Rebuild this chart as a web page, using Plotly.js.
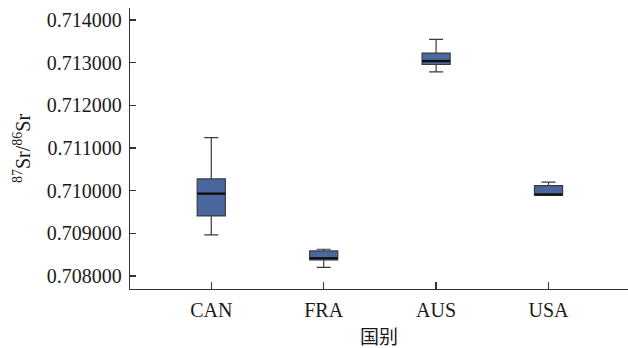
<!DOCTYPE html>
<html>
<head>
<meta charset="utf-8">
<script src="https://cdn.plot.ly/plotly-3.0.1.min.js"></script>
<style>html,body{margin:0;padding:0;background:#fff;}#chart{width:628px;height:348px;}</style>
</head>
<body>
<div id="chart"></div>
<script>
var countries = ['CAN', 'FRA', 'AUS', 'USA'];
var lowerWhisker = [0.708962, 0.708204, 0.712787, 0.709894];
var q1Values = [0.709408, 0.708375, 0.712958, 0.709894];
var medianValues = [0.709931, 0.708415, 0.713038, 0.709908];
var q3Values = [0.710276, 0.708587, 0.713226, 0.710119];
var upperWhisker = [0.711245, 0.708627, 0.713545, 0.710199];
var xTitle = '国别';
var yTitle = '<sup>87</sup>Sr/<sup>86</sup>Sr';

var fontFam = '"Liberation Serif", "Times New Roman", "Noto Sans CJK SC", serif';

var boxTrace = {
  type: 'box',
  x: countries,
  q1: q1Values,
  median: medianValues,
  q3: q3Values,
  lowerfence: lowerWhisker,
  upperfence: upperWhisker,
  boxpoints: false,
  width: 0.25,
  whiskerwidth: 0.5,
  fillcolor: '#4a67a0',
  line: {color: '#3a3a3a', width: 1.2},
  hoverinfo: 'skip',
  showlegend: false
};

var medianTrace = {
  type: 'scatter',
  mode: 'markers',
  x: countries,
  y: medianValues,
  marker: {symbol: 'line-ew', size: 20, line: {color: '#111', width: 2.4}},
  hoverinfo: 'skip',
  showlegend: false
};

var layout = {
  width: 628,
  height: 348,
  margin: {l: 130, r: 0, t: 8, b: 59},
  paper_bgcolor: '#ffffff',
  plot_bgcolor: '#ffffff',
  font: {family: fontFam, size: 20, color: '#1a1a1a'},
  xaxis: {
    type: 'category',
    range: [-0.723, 3.707],
    showline: true,
    linecolor: '#333',
    linewidth: 1.3,
    ticks: 'inside',
    ticklen: 7,
    tickcolor: '#333',
    tickwidth: 1.3,
    showgrid: false,
    zeroline: false,
    ticklabelstandoff: 3,
    tickfont: {family: fontFam, size: 20, color: '#1a1a1a'},
    title: {text: xTitle, font: {family: fontFam, size: 19, color: '#1a1a1a'}, standoff: 12}
  },
  yaxis: {
    range: [0.707695, 0.714282],
    tick0: 0.708,
    dtick: 0.001,
    tickformat: '.6f',
    showline: true,
    linecolor: '#333',
    linewidth: 1.3,
    ticks: 'inside',
    ticklen: 6,
    tickcolor: '#333',
    tickwidth: 1.3,
    showgrid: false,
    zeroline: false,
    ticklabelstandoff: 3,
    tickfont: {family: fontFam, size: 20, color: '#1a1a1a'},
    title: {text: yTitle, font: {family: fontFam, size: 20, color: '#1a1a1a'}, standoff: 10}
  }
};

Plotly.newPlot('chart', [boxTrace, medianTrace], layout, {displayModeBar: false, staticPlot: true});
</script>
</body>
</html>
